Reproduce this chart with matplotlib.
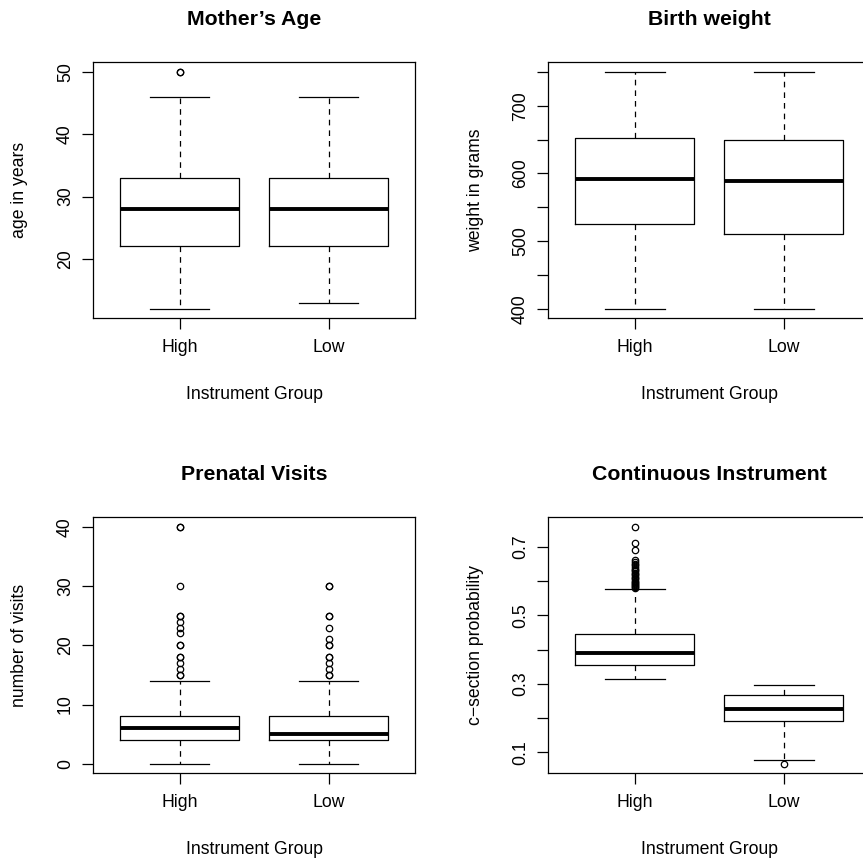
import matplotlib
matplotlib.use("Agg")
import matplotlib.pyplot as plt
import numpy as np

plt.rcParams['font.family'] = ['Liberation Sans', 'DejaVu Sans']

# ==========================
# Data (five-number summaries: whisker low, Q1, median, Q3, whisker high)
# ==========================
groups = ["High", "Low"]

age_high = [12, 22, 28, 33, 46]
age_low = [13, 22, 28, 33, 46]
age_high_out = [50, 50]
age_low_out = []

weight_high = [400, 525, 592, 652, 750]
weight_low = [400, 510, 589, 650, 750]
weight_high_out = []
weight_low_out = []

visits_high = [0, 4, 6, 8, 14]
visits_low = [0, 4, 5, 8, 14]
visits_high_out = [15, 15, 16, 17, 18, 18, 20, 20, 22, 23, 24, 25, 25, 30, 40, 40]
visits_low_out = [15, 15, 16, 17, 18, 18, 20, 20, 21, 23, 25, 25, 30, 30]

cs_high = [0.314, 0.354, 0.389, 0.445, 0.576]
cs_low = [0.077, 0.191, 0.227, 0.267, 0.295]
cs_high_out = [0.581, 0.583, 0.586, 0.589, 0.592, 0.595, 0.598, 0.601, 0.605,
               0.609, 0.613, 0.617, 0.621, 0.625, 0.629, 0.633, 0.637, 0.641,
               0.646, 0.651, 0.656, 0.661, 0.690, 0.712, 0.759]
cs_low_out = [0.066]

panels = [
    ("Mother\u2019s Age", "age in years", age_high, age_low, age_high_out, age_low_out,
     [20, 30, 40, 50], ["20", "30", "40", "50"]),
    ("Birth weight", "weight in grams", weight_high, weight_low, weight_high_out, weight_low_out,
     [400, 450, 500, 550, 600, 650, 700, 750], ["400", "", "500", "", "600", "", "700", ""]),
    ("Prenatal Visits", "number of visits", visits_high, visits_low, visits_high_out, visits_low_out,
     [0, 10, 20, 30, 40], ["0", "10", "20", "30", "40"]),
    ("Continuous Instrument", "c\u2212section probability", cs_high, cs_low, cs_high_out, cs_low_out,
     [0.1, 0.2, 0.3, 0.4, 0.5, 0.6, 0.7], ["0.1", "", "0.3", "", "0.5", "", "0.7"]),
]

# ==========================
# Layout (pixels, R-like 2x2 with cropped right edge)
# ==========================
W, H = 863, 861
fig = plt.figure(figsize=(W / 100, H / 100), dpi=100)
ax_w, ax_h = 321.7, 256.0
lefts = [93.3, 548.4]
tops = [62.3, 517.3]

lw = 0.9
for k, (title, ylab, hi, lo, hi_out, lo_out, yt, ytl) in enumerate(panels):
    r, c = divmod(k, 2)
    ax = fig.add_axes([lefts[c] / W, 1 - (tops[r] + ax_h) / H, ax_w / W, ax_h / H])

    stats = []
    for five, out in [(hi, hi_out), (lo, lo_out)]:
        stats.append(dict(whislo=five[0], q1=five[1], med=five[2], q3=five[3],
                          whishi=five[4], fliers=out))
    ax.bxp(stats, positions=[1, 2], widths=0.8, capwidths=0.4, showfliers=True,
           boxprops=dict(color="black", linewidth=lw),
           medianprops=dict(color="black", linewidth=2.8, solid_capstyle="butt"),
           whiskerprops=dict(color="black", linewidth=lw, linestyle=(0, (4.5, 4))),
           capprops=dict(color="black", linewidth=lw),
           flierprops=dict(marker="o", markersize=4.6, markerfacecolor="none",
                           markeredgecolor="black", markeredgewidth=0.9))

    allv = hi + lo + hi_out + lo_out
    vmin, vmax = min(allv), max(allv)
    pad = 0.04 * (vmax - vmin)
    ax.set_ylim(vmin - pad, vmax + pad)
    ax.set_xlim(0.42, 2.58)

    ax.set_xticks([1, 2])
    ax.set_xticklabels(groups)
    ax.set_yticks(yt)
    ax.set_yticklabels(ytl, rotation=90, va="center")
    ax.tick_params(axis="both", length=8, width=lw, labelsize=12.7, colors="black")
    ax.tick_params(axis="x", pad=7)
    ax.tick_params(axis="y", pad=6)
    for s in ax.spines.values():
        s.set_linewidth(lw)

    ax.text(0.5, 1.168, title, transform=ax.transAxes, ha="center", va="center",
            fontsize=15.3, fontweight="bold")
    ax.text(0.5, -0.297, "Instrument Group", transform=ax.transAxes, ha="center",
            va="center", fontsize=12.7)
    ax.text(-0.228, 0.5, ylab, transform=ax.transAxes, ha="center", va="center",
            rotation=90, fontsize=12.7)

fig.savefig("out.png", dpi=100)
